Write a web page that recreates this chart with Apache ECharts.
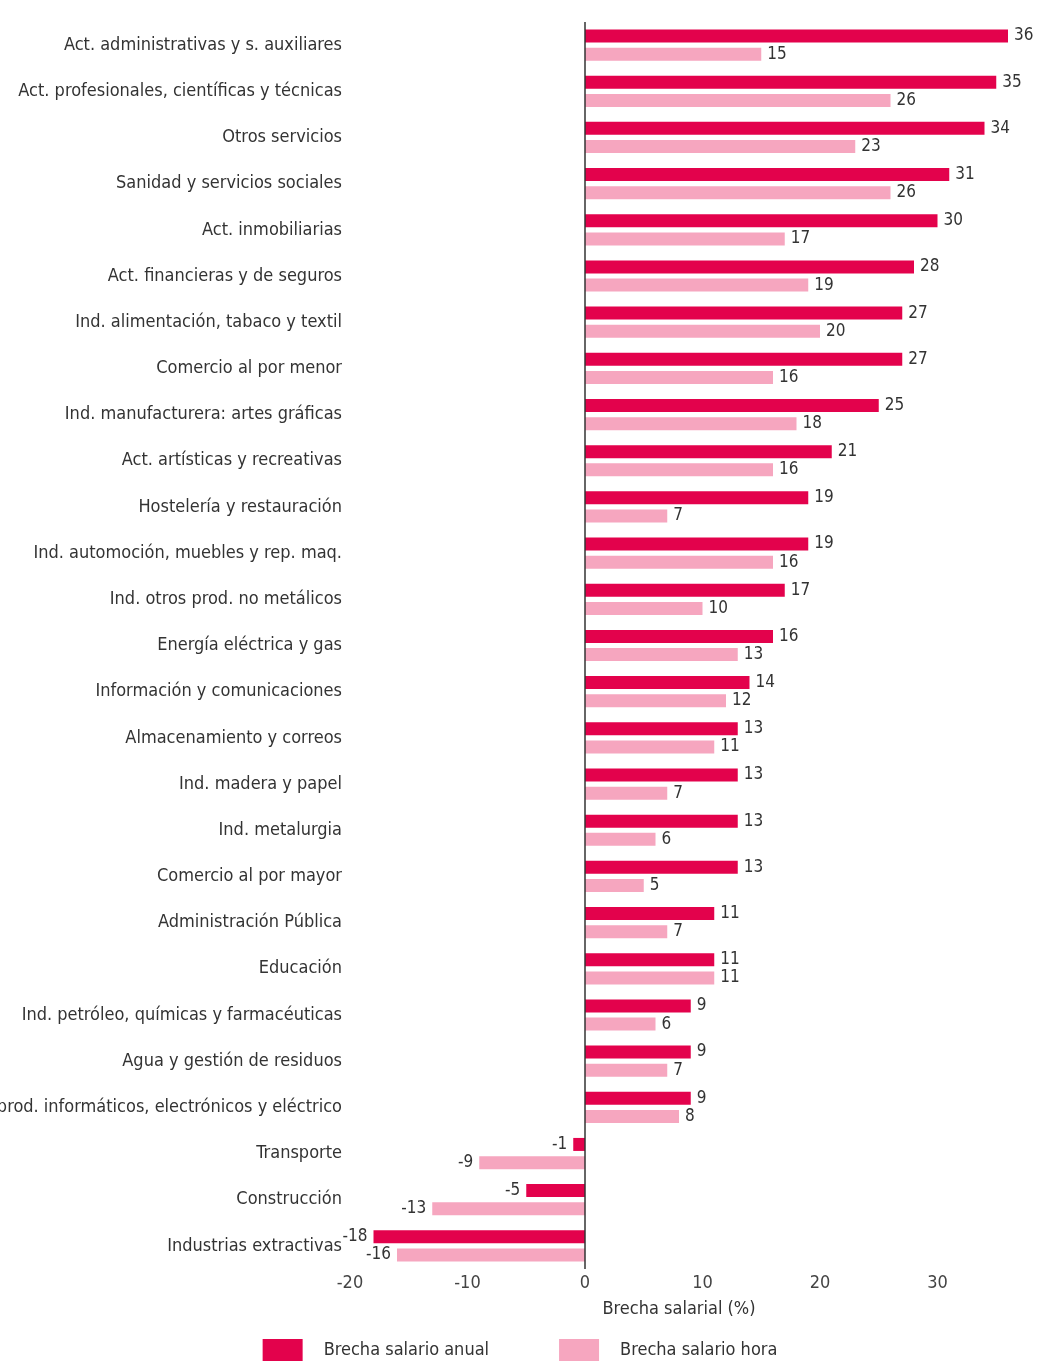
<!DOCTYPE html>
<html>
<head>
<meta charset="utf-8">
<script src="https://cdn.jsdelivr.net/npm/echarts@6/dist/echarts.min.js"></script>
<style>
  html, body { margin: 0; padding: 0; background: #ffffff; }
  #chart { width: 1040px; height: 1361px; }
</style>
</head>
<body>
<div id="chart"></div>
<script>
// Sectores de actividad, de arriba abajo
const sectores = [
  'Act. administrativas y s. auxiliares',
  'Act. profesionales, científicas y técnicas',
  'Otros servicios',
  'Sanidad y servicios sociales',
  'Act. inmobiliarias',
  'Act. financieras y de seguros',
  'Ind. alimentación, tabaco y textil',
  'Comercio al por menor',
  'Ind. manufacturera: artes gráficas',
  'Act. artísticas y recreativas',
  'Hostelería y restauración',
  'Ind. automoción, muebles y rep. maq.',
  'Ind. otros prod. no metálicos',
  'Energía eléctrica y gas',
  'Información y comunicaciones',
  'Almacenamiento y correos',
  'Ind. madera y papel',
  'Ind. metalurgia',
  'Comercio al por mayor',
  'Administración Pública',
  'Educación',
  'Ind. petróleo, químicas y farmacéuticas',
  'Agua y gestión de residuos',
  'Ind. prod. informáticos, electrónicos y eléctrico',
  'Transporte',
  'Construcción',
  'Industrias extractivas'
];

// Brecha salarial (%)
const brechaAnual = [36, 35, 34, 31, 30, 28, 27, 27, 25, 21, 19, 19, 17, 16, 14, 13, 13, 13, 13, 11, 11, 9, 9, 9, -1, -5, -18];
const brechaHora  = [15, 26, 23, 26, 17, 19, 20, 16, 18, 16, 7, 16, 10, 13, 12, 11, 7, 6, 5, 7, 11, 6, 7, 8, -9, -13, -16];

// Marcas del eje horizontal
const ejeMin = -20;
const ejeMax = 36;
const ejeIntervalo = 10;

const COLOR_ANUAL = '#e3024c';
const COLOR_HORA = '#f6a6bf';
const FUENTE_TEXTO = '"DejaVu Sans Condensed", "Liberation Sans Narrow", sans-serif';
const FUENTE_CIFRAS = '"DejaVu Sans Condensed", "Open Sans", sans-serif';

// Etiqueta a la derecha para valores positivos y a la izquierda para negativos
function conEtiquetas(valores) {
  return valores.map(v => ({
    value: v,
    label: { position: v < 0 ? 'left' : 'right' }
  }));
}

const etiquetaValor = {
  show: true,
  color: '#333333',
  fontFamily: FUENTE_CIFRAS,
  fontSize: 17,
  distance: 6
};

const chart = echarts.init(document.getElementById('chart'), null, { renderer: 'canvas' });

chart.setOption({
  animation: false,
  backgroundColor: '#ffffff',
  grid: {
    left: 350,
    right: 32,
    top: 22,
    bottom: 92,
    containLabel: false,
    outerBoundsMode: 'none'
  },
  legend: {
    top: 1334,
    left: 'center',
    itemWidth: 40,
    itemHeight: 22,
    itemGap: 70,
    icon: 'rect',
    textStyle: {
      fontFamily: FUENTE_TEXTO,
      fontSize: 18,
      color: '#333333',
      padding: [0, 0, 0, 16]
    },
    data: ['Brecha salario anual', 'Brecha salario hora']
  },
  xAxis: {
    type: 'value',
    min: ejeMin,
    max: ejeMax,
    interval: ejeIntervalo,
    name: 'Brecha salarial (%)',
    nameLocation: 'middle',
    nameGap: 31,
    nameTextStyle: {
      fontFamily: FUENTE_TEXTO,
      fontSize: 18,
      color: '#333333'
    },
    axisLine: { show: false },
    axisTick: { show: false },
    splitLine: { show: false },
    axisLabel: {
      showMaxLabel: false,
      fontFamily: FUENTE_TEXTO,
      fontSize: 18,
      color: '#444444',
      margin: 5
    }
  },
  yAxis: {
    type: 'category',
    data: sectores,
    inverse: true,
    axisLine: { show: false, onZero: false },
    axisTick: { show: false },
    splitLine: { show: false },
    axisLabel: {
      fontFamily: FUENTE_TEXTO,
      fontSize: 18,
      color: '#333333',
      margin: 8
    }
  },
  series: [
    {
      name: 'Brecha salario anual',
      type: 'bar',
      data: conEtiquetas(brechaAnual),
      barWidth: 13,
      barGap: '40%',
      itemStyle: { color: COLOR_ANUAL },
      label: etiquetaValor,
      markLine: {
        silent: true,
        symbol: 'none',
        label: { show: false },
        lineStyle: { color: '#333333', width: 1.5, type: 'solid' },
        data: [{ xAxis: 0 }]
      }
    },
    {
      name: 'Brecha salario hora',
      type: 'bar',
      data: conEtiquetas(brechaHora),
      barWidth: 13,
      itemStyle: { color: COLOR_HORA },
      label: etiquetaValor
    }
  ]
});
</script>
</body>
</html>
